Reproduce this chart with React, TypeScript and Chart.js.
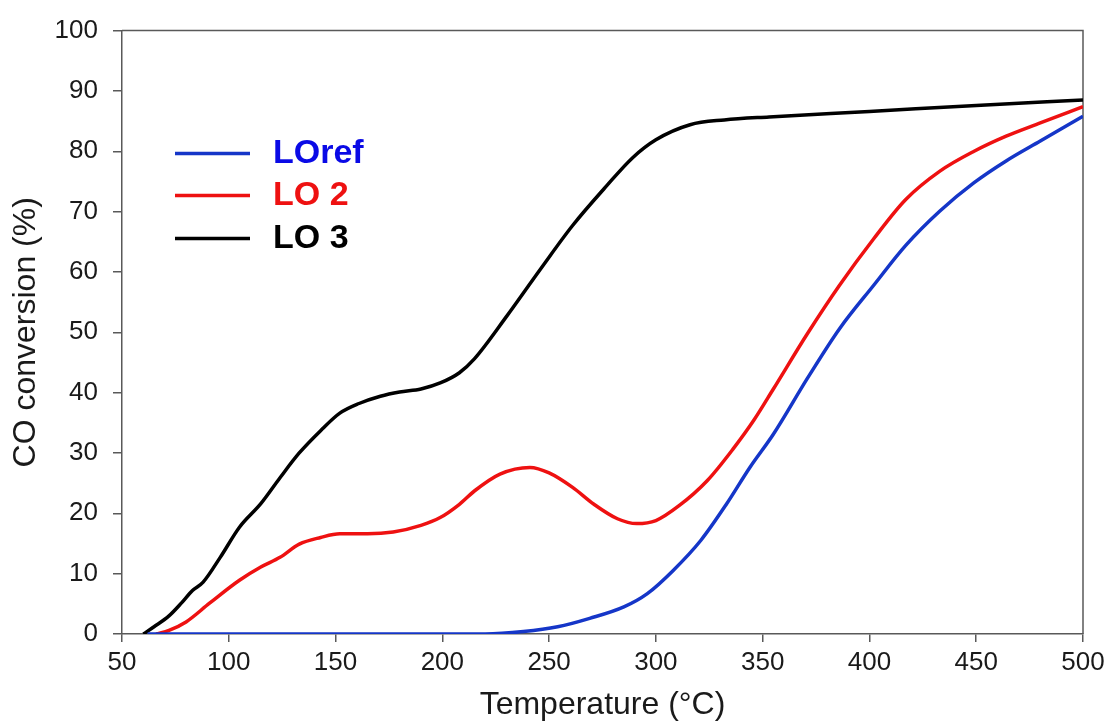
import React, { useEffect, useRef } from "react";
import { Chart, registerables } from "chart.js";

Chart.register(...registerables);

// ---- Data (temperature °C, CO conversion %) ----
const loRefT = [62, 150, 220, 238, 254, 269, 285, 296, 308, 321, 333, 344, 355, 371, 386, 402, 417, 433, 449, 464, 480, 500];
const loRefV = [0, 0, 0, 0.4, 1.2, 2.6, 4.5, 6.7, 10.5, 15.5, 21.5, 27.6, 33.1, 42.4, 50.6, 57.8, 64.4, 70.1, 74.8, 78.4, 81.7, 85.8];

const lo2T = [66, 72, 80, 91, 105, 115, 124, 133, 143, 152, 165, 177, 190, 199, 208, 215, 227, 241, 250, 261, 271, 282, 291, 300, 311, 324, 336, 346, 355, 371, 386, 402, 417, 433, 449, 464, 480, 500];
const lo2V = [0, 0.6, 2, 5.1, 8.9, 11.1, 12.7, 14.9, 16, 16.6, 16.6, 16.9, 18, 19.3, 21.5, 23.7, 26.5, 27.6, 26.7, 24.3, 21.5, 19.1, 18.3, 18.8, 21.3, 25.4, 30.6, 35.5, 40.6, 49.8, 57.8, 65.5, 72, 76.7, 80, 82.5, 84.7, 87.4];

const lo3T = [60, 65, 72, 78, 83, 88, 96, 105, 115, 124, 133, 143, 152, 161, 171, 180, 190, 199, 208, 215, 230, 246, 261, 277, 289, 300, 316, 332, 353, 400, 450, 500];
const lo3V = [0, 1.2, 3, 5.2, 7.2, 8.6, 12.7, 17.7, 21.6, 25.9, 30, 33.7, 36.6, 38.2, 39.4, 40.1, 40.6, 41.6, 43.3, 45.6, 52.6, 60.5, 67.7, 74.3, 78.9, 81.9, 84.4, 85.2, 85.7, 86.6, 87.6, 88.5];

const seriesLabels = ["LOref", "LO 2", "LO 3"];
const lineColors = ["#1536c8", "#ee1111", "#000000"];
const legendTextColors = ["#0a0ae6", "#ee1111", "#000000"];

const xMin = 50;
const xMax = 500;
const xStep = 50;
const yMin = 0;
const yMax = 100;
const yStep = 10;

const xTitle = "Temperature (°C)";
const yTitle = "CO conversion (%)";

const FONT = "'Liberation Sans', Arial, sans-serif";
const AXIS = "#595959";

const toPoints = (t: number[], v: number[]) => t.map((x, i) => ({ x, y: v[i] }));

const framePlugin = {
  id: "frame",
  beforeDatasetsDraw(chart: any) {
    const { ctx, chartArea } = chart;
    ctx.save();
    ctx.strokeStyle = AXIS;
    ctx.lineWidth = 1.5;
    ctx.beginPath();
    ctx.moveTo(chartArea.left, chartArea.top);
    ctx.lineTo(chartArea.right, chartArea.top);
    ctx.lineTo(chartArea.right, chartArea.bottom);
    ctx.stroke();
    ctx.restore();
  },
};

const legendPlugin = {
  id: "insideLegend",
  afterDatasetsDraw(chart: any) {
    const { ctx, chartArea } = chart;
    const x0 = chartArea.left + 53;
    const x1 = chartArea.left + 128;
    const tx = chartArea.left + 151;
    const rowsY = [123, 165, 208];
    ctx.save();
    chart.data.datasets.forEach((ds: any, i: number) => {
      const y = chartArea.top + rowsY[i];
      ctx.strokeStyle = ds.borderColor;
      ctx.lineWidth = 3.5;
      ctx.beginPath();
      ctx.moveTo(x0, y);
      ctx.lineTo(x1, y);
      ctx.stroke();
      ctx.fillStyle = legendTextColors[i];
      ctx.font = `bold 34px ${FONT}`;
      ctx.textBaseline = "middle";
      ctx.textAlign = "left";
      ctx.fillText(ds.label, tx, y);
    });
    ctx.restore();
  },
};

export default function App() {
  const ref = useRef<HTMLCanvasElement>(null);

  useEffect(() => {
    document.body.style.margin = "0";
    const canvas = ref.current;
    if (!canvas) return;
    const chart = new Chart(canvas, {
      type: "line",
      data: {
        datasets: [
          { label: seriesLabels[0], data: toPoints(loRefT, loRefV), borderColor: lineColors[0] },
          { label: seriesLabels[1], data: toPoints(lo2T, lo2V), borderColor: lineColors[1] },
          { label: seriesLabels[2], data: toPoints(lo3T, lo3V), borderColor: lineColors[2] },
        ].map((d) => ({
          ...d,
          borderWidth: 3.5,
          pointRadius: 0,
          fill: false,
          cubicInterpolationMode: "monotone" as const,
        })),
      },
      options: {
        animation: false,
        responsive: true,
        maintainAspectRatio: false,
        layout: { padding: { top: 27, right: 27, left: 0, bottom: 0 } },
        plugins: {
          legend: { display: false },
          tooltip: { enabled: false },
        },
        scales: {
          x: {
            type: "linear",
            min: xMin,
            max: xMax,
            afterFit(scale: any) {
              scale.height = 92;
            },
            ticks: {
              stepSize: xStep,
              color: "#1a1a1a",
              font: { family: FONT, size: 26 },
              padding: 5,
              maxRotation: 0,
            },
            grid: {
              display: true,
              drawOnChartArea: false,
              drawTicks: true,
              tickLength: 8,
              color: AXIS,
              lineWidth: 1.5,
            },
            border: { display: true, color: AXIS, width: 1.5 },
            title: {
              display: true,
              text: xTitle,
              color: "#1a1a1a",
              font: { family: FONT, size: 32 },
              padding: { top: 0, bottom: 2 },
            },
          },
          y: {
            type: "linear",
            min: yMin,
            max: yMax,
            afterFit(scale: any) {
              scale.width = 122;
            },
            ticks: {
              stepSize: yStep,
              color: "#1a1a1a",
              font: { family: FONT, size: 26 },
              padding: 15,
            },
            grid: {
              display: true,
              drawOnChartArea: false,
              drawTicks: true,
              tickLength: 9,
              color: AXIS,
              lineWidth: 1.5,
            },
            border: { display: true, color: AXIS, width: 1.5 },
            title: {
              display: true,
              text: yTitle,
              color: "#1a1a1a",
              font: { family: FONT, size: 32 },
              padding: { top: 7, bottom: 0 },
            },
          },
        },
      },
      plugins: [framePlugin, legendPlugin],
    });
    return () => chart.destroy();
  }, []);

  return (
    <div style={{ position: "relative", width: 1110, height: 726 }}>
      <canvas ref={ref} />
    </div>
  );
}
